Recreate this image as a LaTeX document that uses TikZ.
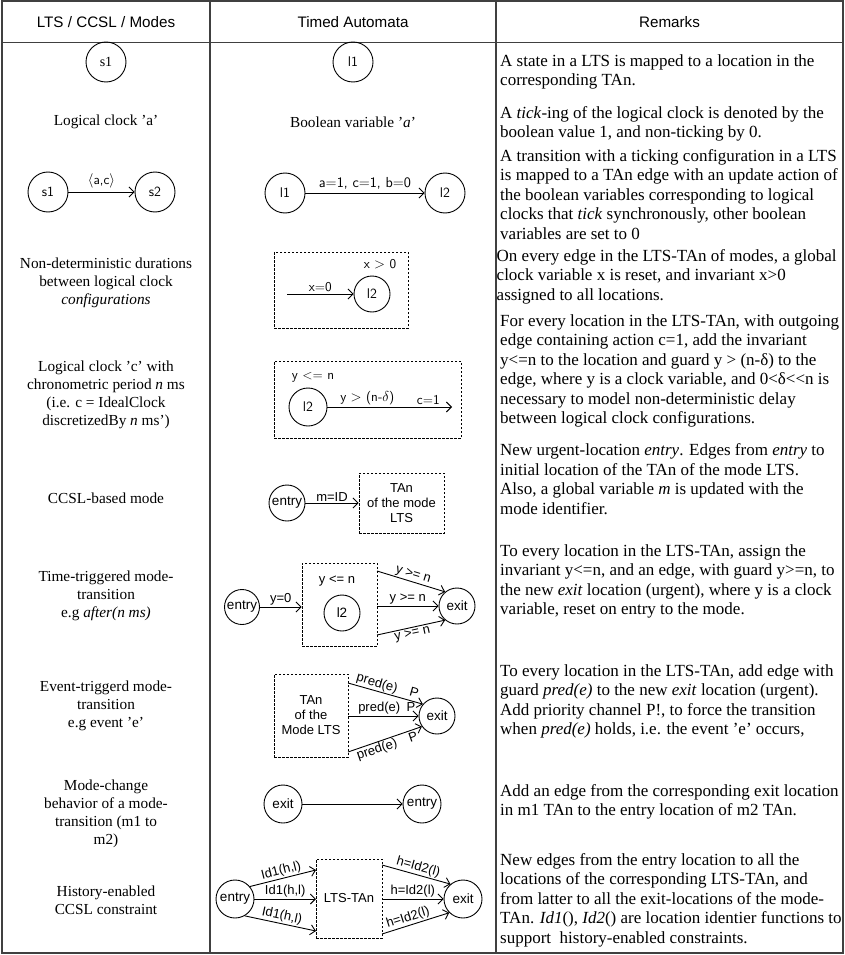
\documentclass[tikz,border=0pt]{standalone}
\usepackage{fontspec}
\setmainfont{Liberation Serif}
\newfontfamily\arialf{Liberation Sans}
\usetikzlibrary{arrows.meta,calc}

\tikzset{
  grid/.style={draw=black!75, line width=1.3pt},
  hdr/.style={inner sep=0pt, font=\arialf\fontsize{15.2}{18}\selectfont},
  lcol/.style={align=center, inner sep=0pt, font=\fontsize{15.3}{18}\selectfont},
  rmk/.style={align=left, anchor=west, inner sep=0pt, font=\fontsize{17}{19.5}\selectfont},
  loc/.style={circle, draw, line width=0.9pt, inner sep=0pt, minimum size=40pt, font=\sffamily\fontsize{14}{16}\selectfont},
  locA/.style={circle, draw, line width=0.9pt, inner sep=0pt, minimum size=36pt, font=\arialf\fontsize{13.5}{16}\selectfont},
  dbox/.style={draw, line width=0.8pt, dash pattern=on 2.5pt off 1.5pt, inner sep=0pt, align=center, font=\arialf\fontsize{13}{15}\selectfont},
  arr/.style={line width=0.9pt, -{Straight Barb[length=5pt,width=10pt]}},
  lbl/.style={font=\sffamily\fontsize{13.5}{16}\selectfont, inner sep=1.5pt},
  lblA/.style={font=\arialf\fontsize{13}{15}\selectfont, inner sep=1pt},
}

\begin{document}
\begin{tikzpicture}[x=1pt,y=-1pt]
\useasboundingbox (0,0) rectangle (844,955);

% table frame
\draw[grid] (2,1) rectangle (843,953);
\draw[grid] (2,42.7) -- (843,42.7);
\draw[grid] (210,1) -- (210,953);
\draw[grid] (496,1) -- (496,953);

% header
\node[hdr] (h1) at (106,22) {LTS / CCSL / Modes};
\node[hdr] (h2) at (353,22) {Timed Automata};
\node[hdr] (h3) at (669.5,22) {Remarks};

% row 1: state / location
\node[loc, font=\fontsize{14}{16}\selectfont] (s1a) at (106,62) {s1};
\node[loc] (l1a) at (353,62) {l1};
\node[rmk] (r1) at (500,71.75) {A state in a LTS is mapped to a location in the\\corresponding TAn.};

% row 2: logical clock / boolean variable
\node[lcol] (c2) at (106,122) {Logical clock ’a’};
\node[lcol] (t2) at (353,122) {Boolean variable ’\textit{a}’};
\node[rmk] (r2) at (500,123.75) {A \textit{tick}-ing of the logical clock is denoted by the\\boolean value 1, and non-ticking by 0.};

% row 3: transition
\node[loc] (s1b) at (48,192) {s1};
\node[loc] (s2b) at (155,192) {s2};
\draw[arr] (s1b) -- node[lbl, above=2pt] (lb3a) {$\langle$a,c$\rangle$} (s2b);
\node[loc] (l1b) at (285,193) {l1};
\node[loc] (l2b) at (445,193) {l2};
\draw[arr] (l1b) -- node[lbl, above=2pt, font=\sffamily\fontsize{14.5}{16}\selectfont] (lb3b) {a=1, c=1, b=0} (l2b);
\node[rmk] (r3) at (500,194.5) {A transition with a ticking configuration in a LTS\\is mapped to a TAn edge with an update action of\\the boolean variables corresponding to logical\\clocks that \textit{tick} synchronously, other boolean\\variables are set to 0};

% row 4: non-deterministic durations
\node[lcol] (c4) at (106,283) {Non-deterministic durations\\between logical clock\\\textit{configurations}};
\node[dbox, minimum width=134pt, minimum height=76pt] (b4) at (341,290) {};
\node[lbl] (inv4) at (380,264) {x $>$ 0};
\node[loc, minimum size=36pt] (l2c) at (372,294) {l2};
\coordinate (in4) at (287,294);
\draw[arr] (in4) -- node[lbl, above] (lb4) {x=0} (l2c);
\node[rmk] (r4) at (496.5,276.5) {On every edge in the LTS-TAn of modes, a global\\clock variable x is reset, and invariant x>0\\assigned to all locations.};

% row 5: chronometric clock
\node[lcol] (c5) at (106,395) {Logical clock ’c’ with\\chronometric period \textit{n} ms\\(i.e. c = IdealClock\\discretizedBy \textit{n} ms’)};
\node[dbox, minimum width=187pt, minimum height=77pt] (b5) at (367.5,399.5) {};
\node[lbl] (inv5) at (313,377) {y <= n};
\node[loc, minimum size=38pt] (l2d) at (308,407) {l2};
\coordinate (out5) at (452,407);
\draw[arr] (l2d) -- node[lbl, above, pos=0.32] (lb5a) {y $>$ (n-$\delta$)} node[lbl, above, pos=0.81] (lb5b) {c=1} (out5);
\node[rmk] (r5) at (500,370.75) {For every location in the LTS-TAn, with outgoing\\edge containing action c=1, add the invariant\\y<=n to the location and guard y > (n-δ) to the\\edge, where y is a clock variable, and 0<δ<{}<n is\\necessary to model non-deterministic delay\\between logical clock configurations.};

% row 6: CCSL-based mode
\node[lcol] (c6) at (106,498) {CCSL-based mode};
\node[locA] (en6) at (287,503) {entry};
\node[dbox, minimum width=85pt, minimum height=60pt] (b6) at (401.5,503) {TAn\\of the mode\\LTS};
\draw[arr] (en6) -- node[lblA, above] (lb6) {m=ID} (b6);
\node[rmk] (r6) at (500,479.25) {New urgent-location \textit{entry}. Edges from \textit{entry} to\\initial location of the TAn of the mode LTS.\\Also, a global variable \textit{m} is updated with the\\mode identifier.};

% row 7: time-triggered mode transition
\node[lcol] (c7) at (106,596) {Time-triggered mode-\\transition\\e.g \textit{after(n ms)}};
\node[locA, minimum size=35pt] (en7) at (242,607) {entry};
\node[dbox, minimum width=75pt, minimum height=83pt] (b7) at (339.5,604.5) {};
\node[lblA] (inv7) at (337,581) {y <= n};
\node[locA] (l2e) at (342,613) {l2};
\node[locA] (ex7) at (457,606) {exit};
\draw[arr] (en7.east) -- node[lblA, above] (lb7) {y=0} (en7.east -| b7.west);
\coordinate (o7a) at (377,571);
\coordinate (o7b) at (377,606);
\coordinate (o7c) at (377,635);
\draw[arr] (o7a) -- node[lblA, above, sloped] (lb7a) {y >= n} (ex7.130);
\draw[arr] (o7b) -- node[lblA, above] (lb7b) {y >= n} (ex7.west);
\draw[arr] (o7c) -- node[lblA, below, sloped] (lb7c) {y >= n} (ex7.230);
\node[rmk] (r7) at (500,581.25) {To every location in the LTS-TAn, assign the\\invariant y<=n, and an edge, with guard y>=n, to\\the new \textit{exit} location (urgent), where y is a clock\\variable, reset on entry to the mode.};

% row 8: event-triggered mode transition
\node[lcol] (c8) at (106,706) {Event-triggerd mode-\\transition\\e.g event ’e’};
\node[dbox, minimum width=74pt, minimum height=83pt] (b8) at (311,715.5) {TAn\\of the\\Mode LTS};
\node[locA] (ex8) at (437,716) {exit};
\coordinate (o8a) at (348,683);
\coordinate (o8b) at (348,716);
\coordinate (o8c) at (348,752);
\draw[arr] (o8a) -- node[lblA, above, sloped] (lb8a) {pred(e)\quad P} (ex8.140);
\draw[arr] (o8b) -- node[lblA, above, pos=0.55] (lb8b) {pred(e)\enspace P} (ex8.west);
\draw[arr] (o8c) -- node[lblA, below, sloped] (lb8c) {pred(e)\quad P} (ex8.215);
\node[rmk] (r8) at (500,701.25) {To every location in the LTS-TAn, add edge with\\guard \textit{pred(e)} to the new \textit{exit} location (urgent).\\Add priority channel P!, to force the transition\\when \textit{pred(e)} holds, i.e. the event ’e’ occurs,};

% row 9: mode change
\node[lcol] (c9) at (106,814) {Mode-change\\behavior of a mode-\\transition (m1 to\\m2)};
\node[locA, minimum size=38pt] (ex9) at (283,804) {exit};
\node[locA, minimum size=38pt] (en9) at (422,804) {entry};
\draw[arr] (ex9) -- (en9);
\node[rmk] (r9) at (500,801.75) {Add an edge from the corresponding exit location\\in m1 TAn to the entry location of m2 TAn.};

% row 10: history-enabled constraint
\node[lcol] (c10) at (106,900) {History-enabled\\CCSL constraint};
\node[locA, minimum size=38pt] (en10) at (235,899) {entry};
\node[dbox, minimum width=66pt, minimum height=79pt] (b10) at (349,898.5) {LTS-TAn};
\node[locA, minimum size=38pt] (ex10) at (463,899) {exit};
\coordinate (i10a) at (316,870);
\coordinate (i10b) at (316,899);
\coordinate (i10c) at (316,931);
\coordinate (o10a) at (382,865);
\coordinate (o10b) at (382,899);
\coordinate (o10c) at (382,934);
\draw[arr] (en10.40) -- node[lblA, above, sloped] (lb10a) {Id1(h,l)} (i10a);
\draw[arr] (en10.east) -- node[lblA, above] (lb10b) {Id1(h,l)} (i10b);
\draw[arr] (en10.300) -- node[lblA, above, sloped] (lb10c) {Id1(h,l)} (i10c);
\draw[arr] (o10a) -- node[lblA, above, sloped] (lb10d) {h=Id2(l)} (ex10.130);
\draw[arr] (o10b) -- node[lblA, above] (lb10e) {h=Id2(l)} (ex10.west);
\draw[arr] (o10c) -- node[lblA, above, sloped, pos=0.42] (lb10f) {h=Id2(l)} (ex10.225);
\node[rmk] (r10) at (500,900) {New edges from the entry location to all the\\locations of the corresponding LTS-TAn, and\\from latter to all the exit-locations of the mode-\\TAn. \textit{Id1}(), \textit{Id2}() are location identier functions to\\support\ \ history-enabled constraints.};
\end{tikzpicture}
\end{document}
